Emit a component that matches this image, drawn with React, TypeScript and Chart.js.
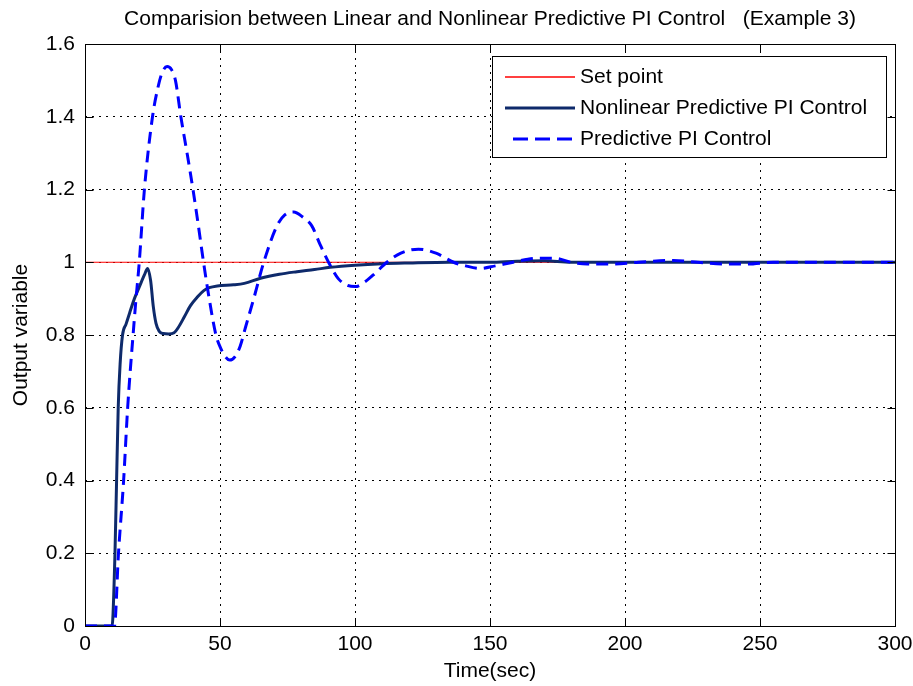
import React, { useEffect, useRef } from "react";
import { Chart, registerables } from "chart.js";
Chart.register(...registerables);

const titleText = "Comparision between Linear and Nonlinear Predictive PI Control   (Example 3)";
const xLabel = "Time(sec)";
const yLabel = "Output variable";
const legendLabels = ["Set point", "Nonlinear Predictive PI Control", "Predictive PI Control"];

const xTicks = [0, 50, 100, 150, 200, 250, 300];
const yTicks = [0, 0.2, 0.4, 0.6, 0.8, 1, 1.2, 1.4, 1.6];

const setTime = [0, 300];
const setValues = [1, 1];

const nlTime = [0, 10, 10.3, 11.1, 11.7, 12.3, 13.0, 13.9, 15.2, 16.5, 18.3, 20, 22, 23.2, 24.3, 25.3, 26.3, 27.5, 29, 31, 33, 34.5, 36.8, 39, 41.7, 44, 46, 49, 55, 59, 65, 72, 78.5, 85, 90.8, 100, 110, 120, 135, 150, 160, 170, 180, 300];
const nlValues = [0, 0, 0.02, 0.2, 0.4, 0.6, 0.72, 0.8, 0.83, 0.86, 0.9, 0.93, 0.965, 0.983, 0.95, 0.878, 0.832, 0.81, 0.804, 0.803, 0.806, 0.82, 0.85, 0.88, 0.905, 0.922, 0.93, 0.935, 0.938, 0.942, 0.956, 0.967, 0.974, 0.98, 0.986, 0.992, 0.996, 0.998, 1.0, 1.0, 1.003, 1.004, 1.0, 1.0];

const piTime = [0, 10.9, 12.4, 14.3, 15.8, 17.8, 18.9, 20.1, 22, 25, 27, 28.5, 30.4, 32, 33.5, 35.5, 37.8, 40, 42, 43.9, 46, 48.5, 50.5, 52, 53.6, 55.5, 57.5, 59.4, 62.5, 66.2, 71.1, 74, 77.3, 80.5, 84, 87, 90.2, 93.8, 97, 100.1, 103.5, 107.5, 111.8, 117, 123.5, 130, 136.5, 141, 146.4, 152, 158.6, 167.4, 174, 180, 186, 195, 205, 218, 227, 237, 245, 255, 300];
const piValues = [0, 0, 0.2, 0.4, 0.6, 0.8, 0.9, 1.0, 1.2, 1.4, 1.48, 1.52, 1.538, 1.53, 1.5, 1.4, 1.3, 1.2, 1.1, 1.0, 0.9, 0.8, 0.76, 0.74, 0.731, 0.74, 0.77, 0.82, 0.9, 1.0, 1.1, 1.13, 1.138, 1.125, 1.1, 1.05, 1.0, 0.955, 0.937, 0.933, 0.945, 0.97, 1.0, 1.025, 1.036, 1.025, 1.0, 0.99, 0.983, 0.99, 1.0, 1.011, 1.011, 1.0, 0.995, 0.995, 1.0, 1.005, 1.0, 0.995, 0.995, 1.0, 1.0];

const FONT = "'Liberation Sans', Arial, sans-serif";
const FS = 21;
const RED = "#ff0000";
const NAVY = "#0e2a6b";
const BLUE = "#0000ff";

const pts = (t: number[], v: number[]) => t.map((x, i) => ({ x, y: v[i] }));

const overlay = {
  id: "matlabOverlay",
  afterDraw(chart: any) {
    const { ctx, chartArea: a, scales } = chart;
    const xs = scales.x;
    const ys = scales.y;
    ctx.save();
    ctx.strokeStyle = "#000";
    ctx.lineWidth = 1;
    ctx.setLineDash([]);
    const L = Math.round(a.left) + 0.5;
    const R = Math.round(a.right) + 0.5;
    const T = Math.round(a.top) + 0.5;
    const B = Math.round(a.bottom) + 0.5;
    ctx.strokeRect(L, T, R - L, B - T);
    const tl = 8;
    ctx.beginPath();
    xTicks.forEach((v) => {
      const px = Math.round(xs.getPixelForValue(v)) + 0.5;
      ctx.moveTo(px, B);
      ctx.lineTo(px, B - tl);
      ctx.moveTo(px, T);
      ctx.lineTo(px, T + tl);
    });
    yTicks.forEach((v) => {
      const py = Math.round(ys.getPixelForValue(v)) + 0.5;
      ctx.moveTo(L, py);
      ctx.lineTo(L + tl, py);
      ctx.moveTo(R, py);
      ctx.lineTo(R - tl, py);
    });
    ctx.stroke();

    ctx.fillStyle = "#000";
    ctx.font = `${FS}px ${FONT}`;
    ctx.textAlign = "center";
    ctx.textBaseline = "middle";
    ctx.fillText(titleText, 490, 19);
    ctx.fillText(xLabel, (a.left + a.right) / 2, 671);
    ctx.save();
    ctx.translate(21, (a.top + a.bottom) / 2);
    ctx.rotate(-Math.PI / 2);
    ctx.fillText(yLabel, 0, 0);
    ctx.restore();

    const bx = 492.5, by = 56.5, bw = 394, bh = 101;
    ctx.fillStyle = "#fff";
    ctx.fillRect(bx, by, bw, bh);
    ctx.strokeStyle = "#000";
    ctx.lineWidth = 1;
    ctx.strokeRect(bx, by, bw, bh);
    const rows = [77, 108, 139];
    const styles = [
      { c: RED, w: 1.5, d: [] as number[], x0: 505 },
      { c: NAVY, w: 3, d: [] as number[], x0: 505 },
      { c: BLUE, w: 3, d: [15, 7], x0: 513 },
    ];
    rows.forEach((y, i) => {
      const s = styles[i];
      ctx.beginPath();
      ctx.strokeStyle = s.c;
      ctx.lineWidth = s.w;
      ctx.setLineDash(s.d);
      ctx.moveTo(s.x0, y);
      ctx.lineTo(575, y);
      ctx.stroke();
      ctx.setLineDash([]);
      ctx.fillStyle = "#000";
      ctx.font = `${FS}px ${FONT}`;
      ctx.textAlign = "left";
      ctx.textBaseline = "middle";
      ctx.fillText(legendLabels[i], 580, y);
    });
    ctx.restore();
  },
};

export default function App() {
  const ref = useRef<HTMLCanvasElement | null>(null);
  useEffect(() => {
    document.body.style.margin = "0";
    const canvas = ref.current!;
    const chart = new Chart(canvas, {
      type: "line",
      data: {
        datasets: [
          {
            label: legendLabels[2],
            data: pts(piTime, piValues),
            borderColor: BLUE,
            borderWidth: 3,
            borderDash: [12, 7],
            pointRadius: 0,
            cubicInterpolationMode: "monotone",
            fill: false,
            order: 0,
          },
          {
            label: legendLabels[1],
            data: pts(nlTime, nlValues),
            borderColor: NAVY,
            borderWidth: 3,
            pointRadius: 0,
            cubicInterpolationMode: "monotone",
            fill: false,
            order: 1,
          },
          {
            label: legendLabels[0],
            data: pts(setTime, setValues),
            borderColor: RED,
            borderWidth: 1,
            pointRadius: 0,
            fill: false,
            order: 2,
          },
        ],
      },
      options: {
        responsive: false,
        animation: false,
        events: [],
        layout: { padding: { left: 0, right: 18, top: 44, bottom: 0 } },
        plugins: { legend: { display: false }, title: { display: false }, tooltip: { enabled: false } },
        scales: {
          x: {
            type: "linear",
            min: 0,
            max: 300,
            afterBuildTicks: (s: any) => { s.ticks = xTicks.map((v) => ({ value: v })); },
            afterFit: (s: any) => { s.height = 60; s.paddingLeft = 0; s.paddingRight = 0; },
            ticks: {
              color: "#000",
              font: { family: FONT, size: FS },
              padding: 6,
              maxRotation: 0,
              callback: (v: any) => String(v),
            },
            grid: { color: "#000", lineWidth: 1, drawTicks: false },
            border: { display: false, dash: [2, 5] },
          },
          y: {
            type: "linear",
            min: 0,
            max: 1.6,
            afterBuildTicks: (s: any) => { s.ticks = yTicks.map((v) => ({ value: v })); },
            afterFit: (s: any) => { s.width = 85; s.paddingTop = 0; s.paddingBottom = 0; },
            ticks: {
              color: "#000",
              font: { family: FONT, size: FS },
              padding: 10,
              callback: (v: any) => String(Math.round(v * 10) / 10),
            },
            grid: { color: "#000", lineWidth: 1, drawTicks: false },
            border: { display: false, dash: [2, 5] },
          },
        },
      },
      plugins: [overlay],
    } as any);
    return () => chart.destroy();
  }, []);
  return <canvas ref={ref} width={913} height={686} style={{ display: "block" }} />;
}
